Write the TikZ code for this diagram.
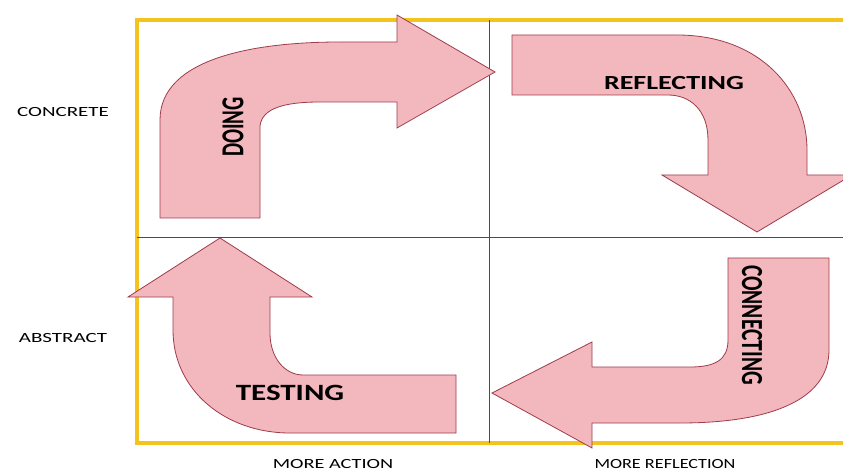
\documentclass[tikz,border=0pt]{standalone}
\usepackage{fontspec}
\usepackage{graphicx}
\setmainfont{Carlito}
\usepackage{tikz}
\definecolor{arrowpink}{RGB}{243,184,190}
\definecolor{arrowedge}{RGB}{158,60,74}
\definecolor{frameyellow}{RGB}{245,195,30}

\begin{document}
\begin{tikzpicture}[x=0.75pt, y=-0.75pt,
  bigarrow/.style={fill=arrowpink, draw=arrowedge, line width=0.6pt, line join=miter},
  word/.style={font=\bfseries, inner sep=0pt},
  axislbl/.style={font=\fontsize{10.5}{10.5}\selectfont, inner sep=0pt}]
\clip (0,0) rectangle (843,474);
\fill[white] (0,0) rectangle (843,474);

% frame and quadrants
\draw[frameyellow, line width=2.4pt] (137,20) rectangle (860,443);
\draw[black!70, line width=0.5pt] (489,20) -- (489,443);
\draw[black!70, line width=0.5pt] (137,237) -- (860,237);

% doing
\draw[bigarrow] (160,218) -- (160,120) .. controls (160,58) and (255,42) .. (340,42)
  -- (397,42) -- (397,15) -- (495,72) -- (397,128) -- (397,102) -- (320,102)
  .. controls (285,102) and (262,108) .. (260,126) -- (260,218) -- cycle;
% reflecting
\draw[bigarrow] (512,35) -- (677,35) .. controls (760,35) and (807,90) .. (807,150)
  -- (807,175) -- (852,175) -- (757,232) -- (662,175) -- (708,175) -- (708,140)
  .. controls (708,110) and (690,95) .. (668,95) -- (512,95) -- cycle;
% connecting
\draw[bigarrow] (728,258) -- (829,258) -- (829,350) .. controls (829,400) and (770,423) .. (680,423)
  -- (592,423) -- (592,448) -- (492,393) -- (592,342) -- (592,367) -- (690,367)
  .. controls (715,367) and (728,360) .. (728,340) -- cycle;
% testing
\draw[bigarrow] (456,375) -- (303,375) .. controls (285,375) and (270,358) .. (270,333)
  -- (270,297) -- (312,297) -- (220,238) -- (128,297) -- (173,297) -- (173,330)
  .. controls (173,390) and (225,433) .. (290,433) -- (456,433) -- cycle;

\node[word, rotate=90] (doing) at (233,127) {\scalebox{0.65}[1]{\fontsize{24}{24}\selectfont DOING}};
\node[word] (reflecting) at (674,83) {\scalebox{1.4}[1]{\fontsize{15}{15}\selectfont REFLECTING}};
\node[word, rotate=-90] (connecting) at (752,325) {\scalebox{0.7}[1]{\fontsize{23}{23}\selectfont CONNECTING}};
\node[word] (testing) at (290,393) {\scalebox{1.33}[1]{\fontsize{17.5}{17.5}\selectfont TESTING}};

\node[axislbl] (concrete) at (63,112) {\scalebox{1.5}[1]{CONCRETE}};
\node[axislbl] (abstract) at (63,338) {\scalebox{1.5}[1]{ABSTRACT}};
\node[axislbl] (action) at (333,464) {\scalebox{1.45}[1]{MORE ACTION}};
\node[axislbl] (reflection) at (665,464) {\scalebox{1.3}[1]{MORE REFLECTION}};
\end{tikzpicture}
\end{document}
